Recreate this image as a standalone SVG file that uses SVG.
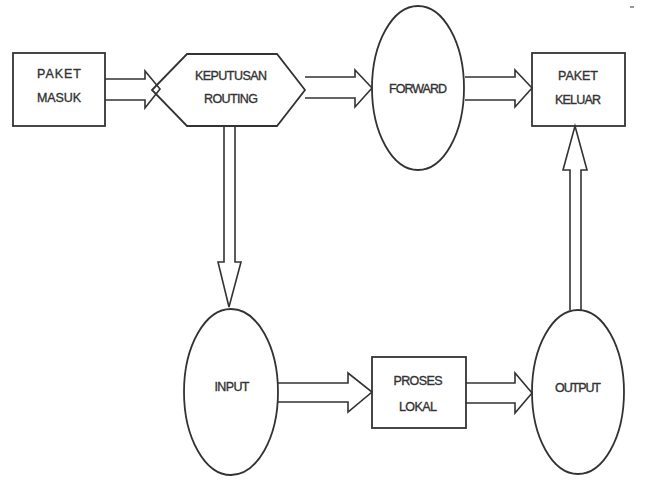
<svg xmlns="http://www.w3.org/2000/svg" width="645" height="487" viewBox="0 0 645 487">
<style>
.n{fill:none;stroke:#333;stroke-width:1.8}
.c{fill:none;stroke:#333;stroke-width:1.6;stroke-linejoin:miter}
.t{font-family:"Liberation Sans",Arial,sans-serif;font-size:12.5px;fill:#333;stroke:#333;stroke-width:0.35;text-anchor:middle}
</style>
<rect width="645" height="487" fill="#fff"/>
<g id="connectors">
<polyline class="c" points="105,79 145,79 145,71 160,89 145,108 145,100 105,100"/>
<polyline class="c" points="305,77 355,77 355,70 372,88 355,107 355,98 305,98"/>
<polyline class="c" points="465,77 515,77 515,70 532,88 515,107 515,100 465,100"/>
<polyline class="c" points="224,126 224,262 218,262 229,307 241,262 235,262 235,126"/>
<polyline class="c" points="278,383 348,383 348,373 372,392 348,412 348,402 278,402"/>
<polyline class="c" points="466,383 515,383 515,373 532,393 515,413 515,403 466,403"/>
<polyline class="c" points="570,310 570,170 563,170 575,126 587,170 581,170 581,310"/>
</g>
<g id="paket-masuk">
<rect class="n" x="13" y="53" width="92" height="73"/>
<text class="t" x="59" y="78" textLength="44">PAKET</text>
<text class="t" x="59" y="102" textLength="44">MASUK</text>
</g>
<g id="keputusan-routing">
<polygon class="n" points="152,90 187,54 277,54 305,90 277,126 187,126"/>
<text class="t" x="231" y="80" textLength="72">KEPUTUSAN</text>
<text class="t" x="231" y="103" textLength="54">ROUTING</text>
</g>
<g id="forward">
<ellipse class="n" cx="418" cy="88" rx="46" ry="82"/>
<text class="t" x="418" y="93" textLength="58">FORWARD</text>
</g>
<g id="paket-keluar">
<rect class="n" x="532" y="53" width="93" height="73"/>
<text class="t" x="578" y="80" textLength="40">PAKET</text>
<text class="t" x="578" y="104" textLength="46">KELUAR</text>
</g>
<g id="input">
<ellipse class="n" cx="231" cy="392" rx="47" ry="83"/>
<text class="t" x="232" y="391" textLength="35">INPUT</text>
</g>
<g id="proses-lokal">
<rect class="n" x="372" y="357" width="94" height="71"/>
<text class="t" x="418" y="385" textLength="49">PROSES</text>
<text class="t" x="418" y="411" textLength="38">LOKAL</text>
</g>
<g id="output">
<ellipse class="n" cx="578" cy="392" rx="46" ry="82"/>
<text class="t" x="578" y="392" textLength="46">OUTPUT</text>
</g>
<line x1="630" y1="7" x2="634" y2="7" stroke="#555" stroke-width="1.2"/>
</svg>
